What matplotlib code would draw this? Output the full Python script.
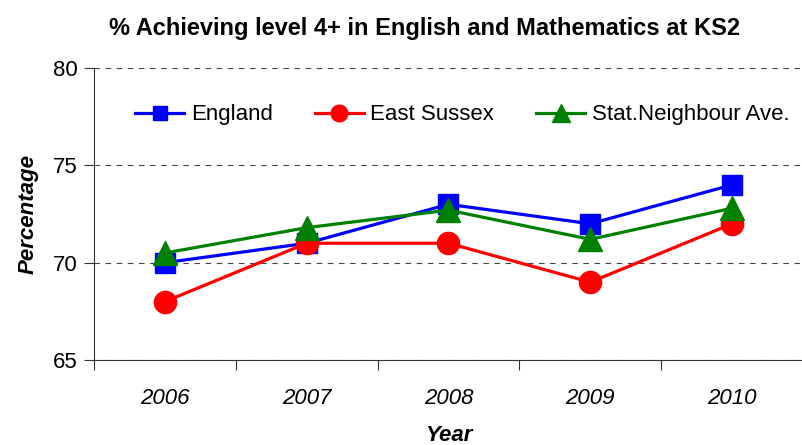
import matplotlib
matplotlib.use("Agg")
import matplotlib.pyplot as plt

# valors de la gràfica
years = ["2006", "2007", "2008", "2009", "2010"]
england = [70, 71, 73, 72, 74]
east_sussex = [68, 71, 71, 69, 72]
stat_neighbour = [70.5, 71.8, 72.7, 71.2, 72.8]

plt.rcParams["font.family"] = ["Liberation Sans", "DejaVu Sans"]

fig = plt.figure(figsize=(8.03, 4.45), dpi=100)
ax = fig.add_axes([0.117, 0.191, 0.883, 0.656])

x = list(range(len(years)))

ax.plot(x, england, color="#0000ff", lw=2.3, marker="s", ms=14, mec="#0000ff",
        label="England", zorder=3)
ax.plot(x, east_sussex, color="#ff0000", lw=2.3, marker="o", ms=16, mec="#ff0000",
        label="East Sussex", zorder=4)
ax.plot(x, stat_neighbour, color="#008000", lw=2.3, marker="^", ms=17, mec="#008000",
        label="Stat.Neighbour Ave.", zorder=5)

ax.set_xlim(-0.5, 4.5)
ax.set_ylim(65, 80)
ax.set_yticks([65, 70, 75, 80])

# marques de l'eix X entre categories, etiquetes al centre
ax.set_xticks([-0.5, 0.5, 1.5, 2.5, 3.5])
ax.set_xticklabels([])
ax.set_xticks(x, minor=True)
ax.set_xticklabels(years, minor=True, fontsize=16, style="italic")
ax.tick_params(axis="x", which="major", length=7, direction="out", color="#333333")
ax.tick_params(axis="x", which="minor", length=0, pad=20)
ax.tick_params(axis="y", length=7, direction="out", labelsize=16, pad=5, color="#333333")

ax.grid(axis="y", linestyle=(0, (5, 5)), color="#444444", lw=0.8)
ax.spines["top"].set_visible(False)
ax.spines["right"].set_visible(False)
ax.spines["left"].set_color("#333333")
ax.spines["bottom"].set_color("#333333")

ax.set_ylabel("Percentage", fontsize=16, fontweight="bold", style="italic", labelpad=10)
ax.set_xlabel("Year", fontsize=16, fontweight="bold", style="italic", labelpad=12)

ax.legend(loc="center left", bbox_to_anchor=(0.058, 0.84), ncol=3, frameon=False,
          fontsize=16, markerscale=0.75, handlelength=2.2, columnspacing=1.9,
          handletextpad=0.3, borderpad=0, borderaxespad=0)

fig.text(425 / 803, 1 - 28 / 445, "% Achieving level 4+ in English and Mathematics at KS2",
         ha="center", va="center", fontsize=17, fontweight="bold")

fig.savefig("out.png", dpi=100)
